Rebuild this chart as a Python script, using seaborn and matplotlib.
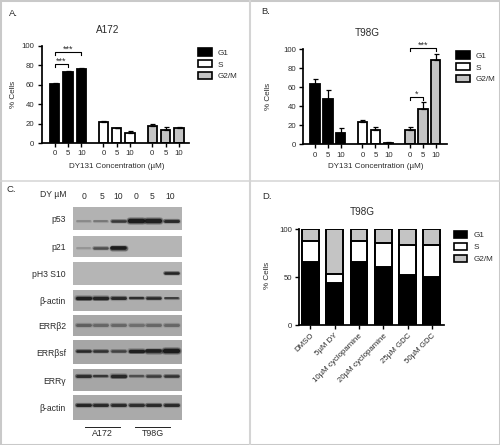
"""
Cell cycle bar charts and western blot panel for DY131 treated glioma cells.
"""

import matplotlib
matplotlib.use("Agg")
import matplotlib.pyplot as plt
from matplotlib.lines import Line2D
from matplotlib.patches import Patch, Rectangle
import numpy as np
import pandas as pd
import seaborn as sns

W, H = 500, 445

phases = ["G1", "S", "G2/M"]
doses = ["0", "5", "10"]
phase_colors = {"G1": "#000000", "S": "#ffffff", "G2/M": "#c4c4c4"}

a172_values = [61, 73, 76, 22, 15, 10.5, 18, 13.5, 15]
a172_errors = [0.5, 1, 1, 0.7, 0.7, 2, 1.5, 2.5, 1]
t98g_values = [63, 48, 12, 23, 15.5, 1, 15, 37, 88]
t98g_errors = [5, 9, 5, 3, 3, 1.5, 3, 7, 7]
y_ticks_pct = [0, 20, 40, 60, 80, 100]

treatments = ["DMSO", "5µM DY", "10µM cyclopamine", "20µM cyclopamine", "25µM GDC", "50µM GDC"]
stack_g1 = [66, 43.5, 66, 60, 52.5, 50.5]
stack_s = [22, 9.5, 21, 25, 31, 32.5]
stack_g2m = [12, 47, 13, 15, 16.5, 17]

blot_names = ["p53", "p21", "pH3 S10", "β-actin", "ERRβ2", "ERRβsf", "ERRγ", "β-actin"]
blot_lanes = ["0", "5", "10", "0", "5", "10"]
blot_intensity = [
    [0.2, 0.3, 0.7, 1.0, 0.95, 0.85],
    [0.15, 0.55, 1.0, 0, 0, 0],
    [0, 0, 0, 0, 0, 0.9],
    [0.95, 0.9, 0.85, 0.8, 0.85, 0.7],
    [0.4, 0.35, 0.35, 0.3, 0.35, 0.35],
    [0.85, 0.75, 0.6, 0.95, 0.95, 1.0],
    [0.8, 0.7, 0.85, 0.5, 0.65, 0.75],
    [0.9, 0.85, 0.85, 0.8, 0.85, 0.85],
]
blot_thickness = [
    [2.5, 2.5, 3.5, 6, 6, 4],
    [2.5, 3.5, 5, 0, 0, 0],
    [0, 0, 0, 0, 0, 3.5],
    [4.5, 4.5, 4, 3, 3.5, 2.5],
    [4, 4, 4, 4, 4, 4],
    [3.5, 3.5, 3.5, 4.5, 5, 6],
    [4, 3, 4.5, 3, 3.5, 3.5],
    [4, 4, 4, 4, 4, 4],
]

plt.rcParams["font.family"] = ["Liberation Sans", "DejaVu Sans"]
TEXT = "#2b2b2b"


def add_axes_px(fig, left, top, right, bottom):
    return fig.add_axes([left / W, 1 - bottom / H, (right - left) / W, (bottom - top) / H])


def put_text(fig, x, y, s, size=6.0, ha="center", **kw):
    fig.text(x / W, 1 - y / H, s, fontsize=size, ha=ha, va="center", color=TEXT, **kw)


def style_axes(ax):
    sns.despine(ax=ax)
    for side in ["left", "bottom"]:
        ax.spines[side].set_linewidth(1.25)
    ax.tick_params(length=3, width=1.0, labelsize=5.6, pad=2.2, labelcolor=TEXT)


def add_legend(fig, x, y):
    handles = [Patch(facecolor=phase_colors[p], edgecolor="black", linewidth=1.2, label=p) for p in phases]
    leg = fig.legend(handles=handles, loc="upper left", bbox_to_anchor=(x / W, 1 - y / H),
                     fontsize=5.9, frameon=False, handlelength=1.7, handleheight=0.95,
                     labelspacing=0.42, handletextpad=0.7, borderpad=0, borderaxespad=0)
    for t in leg.get_texts():
        t.set_color(TEXT)


def add_bracket(ax, x0, x1, y, drop, label):
    ax.plot([x0, x0, x1, x1], [y - drop, y, y, y - drop], color="black", lw=0.8, clip_on=False)
    ax.text((x0 + x1) / 2, y - 1.5, label, ha="center", va="bottom", fontsize=6.5, color=TEXT,
            clip_on=False)


def grouped_panel(fig, box, values, errors, label_x):
    ax = add_axes_px(fig, *box)
    pos = np.concatenate([np.arange(3) + i * 3.66 for i in range(3)])
    df = pd.DataFrame({
        "pos": pos,
        "value": values,
        "phase": np.repeat(phases, 3),
    })
    sns.barplot(data=df, x="pos", y="value", hue="phase", palette=phase_colors, native_scale=True,
                dodge=False, width=0.7, edgecolor="black", linewidth=1.3, legend=False, ax=ax)
    ax.errorbar(pos, values, yerr=[np.zeros(9), errors], fmt="none", ecolor="black",
                elinewidth=0.9, capsize=1.8, capthick=0.9)
    spacing = (box[2] - box[0]) / 11.05
    ax.set_xlim(-(label_x - box[0]) / spacing, -(label_x - box[0]) / spacing + 11.05)
    ax.set_ylim(0, 100)
    ax.set_yticks(y_ticks_pct)
    ax.set_xticks(pos)
    ax.set_xticklabels(doses * 3)
    ax.set_xlabel("")
    ax.set_ylabel("")
    style_axes(ax)
    return ax, pos


fig = plt.figure(figsize=(W / 100, H / 100), dpi=100, facecolor="white")

# panel frame
fig.add_artist(Rectangle((0, 0), 1, 1, transform=fig.transFigure, fill=False, edgecolor="#c9c9c9", lw=2.2))
fig.add_artist(Line2D([249.5 / W] * 2, [0, 1], color="#d4d4d4", lw=1.5))
fig.add_artist(Line2D([0, 1], [1 - 180.5 / H] * 2, color="#d4d4d4", lw=1.1))

# A
ax_a, pos_a = grouped_panel(fig, (41.7, 46, 189, 143), a172_values, a172_errors, 54.7)
add_bracket(ax_a, pos_a[0], pos_a[1], 81.5, 3, "***")
add_bracket(ax_a, pos_a[0], pos_a[2], 94, 3, "***")
add_legend(fig, 198, 48.5)
put_text(fig, 13, 13, "A.", 6.8)
put_text(fig, 108, 30, "A172", 7.2)
put_text(fig, 13.5, 94, "% Cells", 5.9, rotation=90)
put_text(fig, 116.7, 167, "DY131 Concentration (µM)", 5.8)

# B
ax_b, pos_b = grouped_panel(fig, (303.3, 49, 446.7, 144.3), t98g_values, t98g_errors, 315)
add_bracket(ax_b, pos_b[6], pos_b[7], 49.5, 3, "*")
add_bracket(ax_b, pos_b[6], pos_b[8], 101, 3, "***")
add_legend(fig, 456, 51.5)
put_text(fig, 266, 11.5, "B.", 6.8)
put_text(fig, 367, 33, "T98G", 7.2)
put_text(fig, 269, 96, "% Cells", 5.9, rotation=90)
put_text(fig, 375.7, 167, "DY131 Concentration (µM)", 5.8)

# C
blot_boxes = [(206.7, 230), (235.7, 257.3), (261.7, 285), (290, 310.7),
              (315, 336), (340, 364), (369, 391), (395, 420)]
blot_greys = ["#b2b2b2", "#b5b5b5", "#b5b5b5", "#adadad", "#a8a8a8", "#a6a6a6", "#a6a6a6", "#aaaaaa"]
band_rows = [0.6, 0.55, 0.5, 0.37, 0.48, 0.44, 0.32, 0.4]
for i, name in enumerate(blot_names):
    top, bottom = blot_boxes[i]
    ax = add_axes_px(fig, 73.3, top, 181.7, bottom)
    ax.set_facecolor(blot_greys[i])
    ax.set_xlim(-0.57, 5.6)
    ax.set_ylim(1, 0)
    ax.set_xticks([])
    ax.set_yticks([])
    sns.despine(ax=ax, left=True, bottom=True)
    for lane, (level, thick) in enumerate(zip(blot_intensity[i], blot_thickness[i])):
        if level == 0:
            continue
        # soft halo first, then the dark core of the band
        for scale, alpha in [(1.3, 0.2), (1.05, 0.35), (0.72, 0.9)]:
            ax.plot([lane - 0.37, lane + 0.37], [band_rows[i]] * 2, color="#141414",
                    lw=thick * scale * 0.72, alpha=alpha * level, solid_capstyle="round")
    put_text(fig, 66, (top + bottom) / 2 + 1, name, 6.2, ha="right")

put_text(fig, 11, 190, "C.", 6.8)
put_text(fig, 66, 195, "DY µM", 6.2, ha="right")
for lane_x, lane_label in zip([84, 102, 118, 136.5, 152.5, 170.5], blot_lanes):
    put_text(fig, lane_x, 197, lane_label, 6.2)
fig.add_artist(Line2D([85 / W, 119.5 / W], [1 - 426.7 / H] * 2, color="#222222", lw=0.7))
fig.add_artist(Line2D([135 / W, 170 / W], [1 - 426.7 / H] * 2, color="#222222", lw=0.7))
put_text(fig, 102.5, 433, "A172", 6.4)
put_text(fig, 153, 433, "T98G", 6.4)

# D
ax_d = add_axes_px(fig, 299, 229, 444, 325)
stack_df = pd.DataFrame({"treatment": treatments, "G1": stack_g1, "S": stack_s, "G2/M": stack_g2m})
stack_df["top_s"] = stack_df["G1"] + stack_df["S"]
stack_df["top_all"] = stack_df["top_s"] + stack_df["G2/M"]
for col, phase in [("top_all", "G2/M"), ("top_s", "S"), ("G1", "G1")]:
    sns.barplot(data=stack_df, x="treatment", y=col, color=phase_colors[phase], saturation=1,
                width=0.69, edgecolor="black", linewidth=1.4, ax=ax_d)
ax_d.set_xlim(-0.465, 5.5)
ax_d.set_ylim(0, 100)
ax_d.set_yticks([0, 50, 100])
ax_d.set_xlabel("")
ax_d.set_ylabel("")
style_axes(ax_d)
ax_d.set_xticks(range(len(treatments)))
ax_d.set_xticklabels(treatments, rotation=45, ha="right", rotation_mode="anchor", fontsize=5.7)
add_legend(fig, 453.5, 231)
put_text(fig, 267, 197, "D.", 6.8)
put_text(fig, 362.7, 212, "T98G", 7.2)
put_text(fig, 267.7, 275, "% Cells", 5.9, rotation=90)

fig.savefig("out.png", dpi=100)
plt.close(fig)
